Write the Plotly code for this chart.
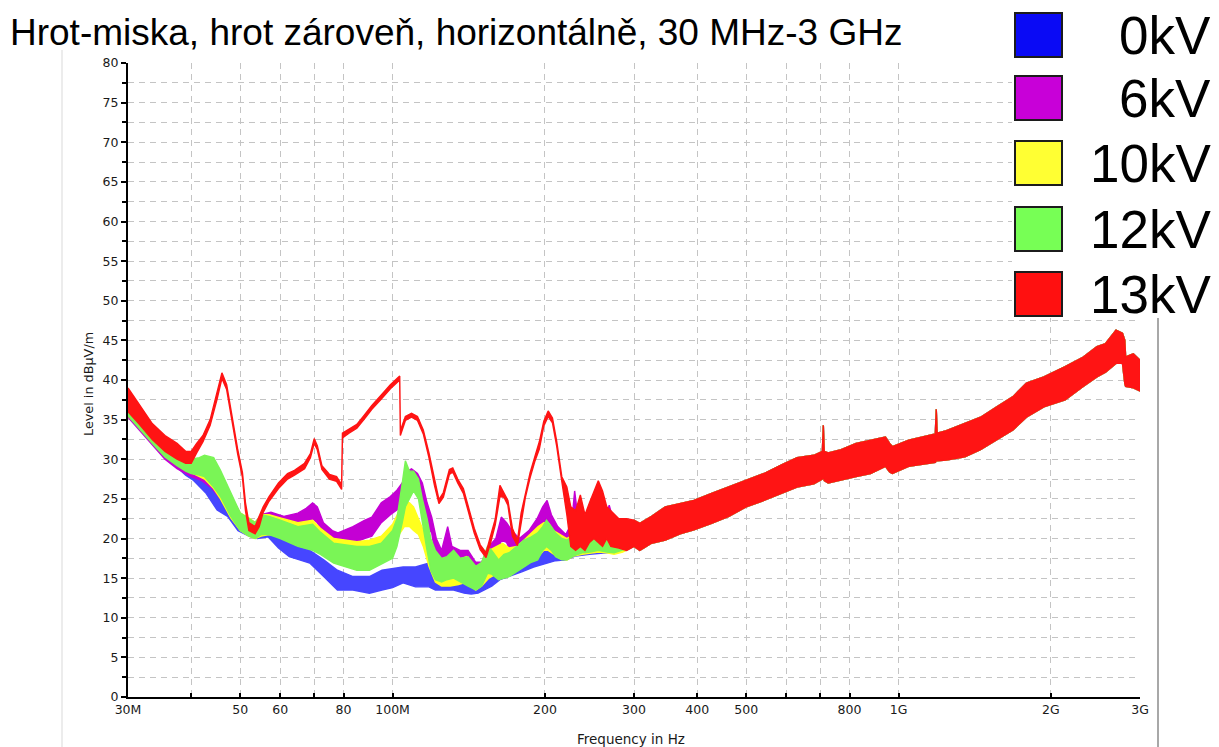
import plotly.graph_objects as go

# ---------------------------------------------------------------------------
# Measured field-strength envelopes: (frequency MHz, lower dBuV/m, upper dBuV/m)
# ---------------------------------------------------------------------------
BAND_0KV = [
    (30, 35.6, 37.5), (31.5, 34.3, 36.0), (33.5, 32.3, 34.0), (35.5, 30.4, 32.0),
    (37.5, 29.0, 30.8), (39, 28.0, 29.5), (40.3, 27.4, 28.6), (42.8, 25.7, 27.0),
    (45, 23.6, 26.1), (47.2, 22.8, 24.5), (49.5, 21.0, 22.5), (52, 20.3, 22.0),
    (54, 20.0, 21.8), (56.8, 20.2, 21.5), (59.5, 18.8, 20.5), (62.5, 17.7, 19.4),
    (65.5, 17.3, 19.0), (68.6, 16.9, 18.5), (73.1, 15.2, 17.3), (77.8, 13.5, 16.0),
    (83.5, 13.5, 15.2), (90, 13.1, 15.2), (95.3, 13.5, 16.0), (100, 13.8, 16.2),
    (104.9, 14.4, 16.4), (111, 13.9, 16.4), (118, 13.9, 16.9), (121.5, 13.5, 15.6),
    (126, 13.5, 15.5), (132, 13.5, 15.5), (138.5, 13.1, 14.8), (143, 13.0, 14.5),
    (147.6, 13.1, 14.8), (152, 13.5, 15.5), (157, 14.0, 16.0), (163, 14.8, 17.0),
    (170, 15.2, 17.5), (180, 15.8, 18.0), (190, 16.4, 18.5), (200, 16.8, 19.0),
    (210, 17.2, 19.5), (220, 17.3, 19.8), (230, 17.8, 20.3), (245, 18.0, 20.5),
    (260, 18.2, 20.8), (275, 18.3, 21.0), (290, 18.5, 21.3),
]

BAND_6KV = [
    (30, 35.3, 37.5), (31.5, 33.8, 36.0), (33.5, 31.8, 34.0), (35.5, 30.0, 32.3),
    (37.5, 28.8, 31.0), (39, 28.2, 30.0), (40, 27.8, 29.7), (42, 27.3, 29.2),
    (44, 26.3, 28.5), (46, 24.8, 27.3), (48, 22.8, 25.3), (50, 21.2, 23.2),
    (52, 20.5, 22.5), (53.5, 20.2, 22.0), (55, 20.5, 23.0), (57.5, 21.0, 23.3),
    (61, 21.0, 22.8), (65, 21.0, 23.2), (67.5, 21.5, 23.8), (69.5, 22.5, 24.5),
    (71, 22.0, 24.0), (73, 20.5, 22.0), (76, 19.5, 21.0), (78, 19.0, 20.7),
    (83.5, 19.4, 21.5), (88, 20.0, 22.3), (91, 20.3, 22.7), (95, 22.0, 24.5),
    (99, 23.0, 25.3), (102, 23.6, 26.1), (104.5, 24.0, 27.0), (107, 26.0, 28.5),
    (109, 26.5, 28.8), (112, 26.1, 28.2), (114.5, 24.5, 27.0), (117, 21.5, 24.5),
    (119.5, 20.7, 22.7), (122, 17.0, 20.0), (125, 16.0, 18.5), (128.5, 17.3, 21.5),
    (131, 16.0, 19.0), (136, 15.6, 18.5), (141, 15.5, 18.5), (146, 14.5, 17.0),
    (150, 14.5, 17.0), (155, 16.0, 19.0), (160, 17.0, 20.0), (164, 19.8, 22.7),
    (168, 19.5, 22.0), (172, 18.0, 21.0), (178, 17.0, 20.0), (186, 18.0, 21.0),
    (193, 19.5, 22.5), (198, 21.0, 24.0), (202, 22.0, 24.8), (206, 20.5, 23.0),
    (212, 18.5, 21.5), (220, 17.7, 20.5), (226, 18.5, 22.0), (229, 19.0, 26.0),
    (233, 18.5, 22.0), (245, 18.5, 21.5), (253, 18.5, 22.0), (263, 18.5, 22.5),
    (268, 18.5, 24.2), (274, 18.3, 22.0), (285, 18.5, 21.5),
]

BAND_10KV = [
    (30, 35.5, 37.8), (31.5, 34.2, 36.3), (33.5, 32.2, 34.3), (35.5, 30.5, 32.6),
    (37.5, 29.3, 31.3), (39, 28.6, 30.3), (40, 28.3, 30.0), (42.5, 27.5, 29.8),
    (44.3, 26.3, 29.5), (45.7, 25.0, 28.0), (47.9, 22.6, 25.3), (50, 21.0, 23.2),
    (52, 20.3, 22.6), (53.5, 20.0, 22.0), (55, 20.3, 23.0), (57, 20.5, 23.0),
    (60, 20.2, 22.6), (65, 19.3, 22.0), (69.5, 18.8, 22.3), (72, 18.5, 21.3),
    (76.5, 17.5, 20.0), (80, 17.0, 19.8), (85, 16.8, 19.6), (90, 17.0, 19.8),
    (95, 17.5, 20.3), (100, 18.5, 21.8), (103, 20.5, 23.5), (105.5, 21.5, 24.8),
    (108, 21.5, 24.5), (110, 21.0, 24.0), (112.5, 20.5, 22.5), (115, 19.0, 21.0),
    (118, 16.5, 19.5), (121.5, 14.5, 17.5), (125, 14.0, 16.8), (130, 14.0, 17.0),
    (135, 14.2, 17.3), (140, 14.5, 17.7), (146, 13.5, 16.0), (150, 14.0, 16.5),
    (155, 15.0, 18.5), (160, 15.5, 19.0), (165, 16.0, 19.4), (170, 15.8, 18.8),
    (176, 16.0, 19.0), (182, 16.5, 19.8), (188, 17.3, 20.7), (194, 17.7, 21.5),
    (199, 18.5, 22.0), (203, 18.5, 22.0), (208, 18.0, 21.0), (214, 17.5, 20.5),
    (221, 17.3, 20.0), (228, 17.8, 20.5), (237, 18.0, 20.5), (246, 18.2, 20.5),
    (255, 18.3, 20.7), (265, 18.2, 21.0), (274, 18.0, 21.3), (285, 18.3, 21.3),
]

BAND_12KV = [
    (30, 35.5, 37.5), (31.5, 34.0, 36.0), (33.5, 32.0, 34.0), (35.5, 30.3, 32.3),
    (37.5, 29.2, 31.0), (39, 28.5, 30.0), (40, 28.2, 30.0), (41.5, 28.0, 30.2),
    (42.5, 27.8, 30.5), (44.3, 26.5, 30.2), (45.7, 25.3, 28.6), (47.9, 22.8, 25.7),
    (50, 21.0, 23.2), (52, 20.3, 22.5), (53.5, 20.0, 22.0), (55, 20.5, 23.0),
    (57, 20.5, 22.8), (60, 20.0, 22.3), (65, 19.0, 21.5), (69.5, 18.5, 21.8),
    (72, 18.0, 20.8), (76.5, 16.9, 19.4), (80, 16.5, 19.2), (85, 16.0, 19.0),
    (90, 16.0, 19.0), (95, 16.8, 19.4), (100, 17.5, 21.0), (102, 19.0, 22.5),
    (104.5, 22.0, 27.0), (106, 24.0, 29.8), (108, 25.0, 28.5), (110, 26.0, 28.5),
    (112.5, 25.0, 27.5), (114.5, 22.0, 25.0), (117, 18.5, 22.5), (119, 16.0, 20.0),
    (121.5, 14.8, 18.5), (125, 14.5, 17.5), (128, 14.8, 17.7), (132, 15.0, 18.5),
    (136, 14.5, 17.5), (141, 14.0, 17.7), (146, 13.5, 16.5), (150, 14.0, 17.0),
    (154, 15.6, 19.0), (157, 15.5, 18.5), (162, 14.8, 17.3), (166, 15.0, 18.0),
    (170, 15.2, 18.2), (176, 15.8, 19.0), (182, 16.4, 19.8), (188, 17.0, 20.2),
    (193.5, 17.3, 20.7), (198, 18.5, 21.5), (201.5, 19.0, 22.3), (206, 18.5, 21.5),
    (210, 17.7, 20.7), (216, 17.3, 20.0), (221.5, 17.3, 19.8), (228, 17.8, 20.5),
    (237, 18.2, 20.7), (246, 18.3, 20.5), (255, 18.5, 20.7), (265, 18.3, 21.0),
    (274, 18.2, 21.5), (285, 18.5, 21.5),
]

BAND_13KV = [
    (30, 36.0, 39.0), (31.5, 34.5, 37.0), (33.5, 32.5, 34.5), (35.5, 31.0, 33.0),
    (37.5, 30.0, 32.0), (39, 29.5, 31.0), (40, 29.5, 31.0), (41, 30.8, 32.0),
    (42.2, 32.2, 33.0), (43.6, 34.3, 35.0), (45, 37.6, 38.5), (46, 40.2, 40.9),
    (47, 38.8, 39.4), (48.2, 34.7, 35.3), (49.4, 30.7, 31.3), (50.5, 27.7, 28.3),
    (51.2, 23.5, 24.5), (52, 21.0, 22.0), (53.5, 20.6, 21.5), (54.5, 21.5, 22.8),
    (55.5, 23.3, 24.0), (57, 24.7, 25.3), (59.5, 26.3, 27.0), (62, 27.5, 28.2),
    (64, 28.0, 28.6), (67, 28.8, 29.5), (68.8, 30.2, 30.7), (70, 32.0, 32.6),
    (71, 31.2, 31.7), (72.5, 28.7, 29.2), (75, 27.5, 28.1), (77.5, 27.2, 27.8),
    (79.3, 26.2, 26.8), (79.6, 32.7, 33.3), (82, 33.3, 33.8), (85, 33.9, 34.4),
    (88, 35.1, 35.6), (91, 36.3, 36.8), (95, 37.6, 38.1), (99, 38.9, 39.4),
    (103.3, 40.0, 40.5), (103.6, 33.0, 33.6), (106, 34.9, 35.4), (109, 35.3, 35.8),
    (112, 34.9, 35.4), (115, 33.2, 33.7), (118, 30.2, 30.8), (121, 26.7, 27.3),
    (123.5, 24.4, 24.9), (126, 25.2, 25.8), (129.5, 28.1, 28.7), (131.5, 28.4, 28.9),
    (134.5, 27.0, 27.5), (138, 25.7, 26.3), (141, 23.4, 24.0), (145, 20.7, 21.3),
    (149, 18.6, 19.2), (153, 17.6, 18.2), (156, 19.3, 20.2), (159.5, 21.7, 22.4),
    (163, 25.3, 26.7), (166, 25.2, 25.8), (169, 24.2, 24.8), (172.5, 20.3, 21.3),
    (176.5, 19.1, 19.7), (179.5, 21.8, 23.2), (183, 25.2, 25.8), (187, 27.7, 28.3),
    (191, 29.7, 30.3), (195, 31.3, 32.2), (199, 34.2, 34.8), (203, 35.4, 36.1),
    (207, 34.6, 35.2), (211, 31.7, 32.3), (216, 27.2, 27.8), (221, 23.0, 26.5),
    (225, 19.0, 24.0), (230, 18.5, 23.5), (235, 19.0, 25.5), (240, 18.5, 23.0),
    (245, 19.5, 24.5), (250, 20.0, 26.0), (255, 19.5, 27.3), (260, 19.0, 26.0),
    (265, 20.0, 24.0), (270, 19.0, 23.5), (280, 18.8, 22.5), (290, 18.5, 22.5),
]

# Above 300 MHz all five measurements lie in the same band
BAND_ABOVE_300M = [
    (300, 19.0, 22.3), (308, 18.5, 21.9), (325, 19.4, 22.8), (346, 19.8, 24.0),
    (370, 20.6, 24.4), (394, 21.1, 24.8), (427, 21.9, 25.7), (462, 22.8, 26.5),
    (500, 24.0, 27.4), (542, 24.8, 28.2), (587, 25.7, 29.3), (630, 26.5, 30.2),
    (680, 26.9, 30.5), (707, 27.5, 31.0), (710, 27.8, 34.3), (713, 27.3, 31.0),
    (726, 27.0, 30.8), (770, 27.4, 31.2), (824, 27.8, 32.0), (880, 28.2, 32.4),
    (942, 29.1, 32.8), (960, 28.4, 32.0), (972, 28.2, 31.6), (1047, 29.1, 32.4),
    (1182, 29.6, 33.2), (1187, 29.8, 36.3), (1192, 29.8, 33.3), (1243, 29.9, 33.6),
    (1352, 30.3, 34.5), (1452, 31.2, 35.3), (1563, 32.4, 36.6), (1683, 33.7, 37.9),
    (1789, 35.3, 39.6), (1937, 36.6, 40.4), (2134, 37.5, 41.7), (2317, 39.2, 42.9),
    (2466, 40.4, 44.2), (2565, 41.0, 44.6), (2690, 42.1, 46.3), (2770, 42.1, 45.9),
    (2800, 39.5, 45.0), (2810, 39.2, 42.9), (2910, 39.0, 43.3), (3000, 38.6, 42.5),
]

SERIES_NAMES = ["0kV", "6kV", "10kV", "12kV", "13kV"]
SERIES_BANDS = [BAND_0KV, BAND_6KV, BAND_10KV, BAND_12KV, BAND_13KV]
TRACE_COLORS = ["#4646ff", "#c400d4", "#ffff1e", "#7af556", "#ff1414"]
LEGEND_COLORS = ["#0a0af5", "#c800d8", "#ffff33", "#77ff55", "#ff1010"]

X_TICKS = [30, 40, 50, 60, 70, 80, 100, 200, 300, 400, 500, 600, 700, 800, 1000, 2000, 3000]
X_TICK_TEXT = ["30M", "", "50", "60", "", "80", "100M", "200", "300", "400", "500",
               "", "", "800", "1G", "2G", "3G"]

TITLE = "Hrot-miska, hrot zároveň, horizontálně, 30 MHz-3 GHz"

# ---------------------------------------------------------------------------
W, H = 1219, 747
ML, MR, MT, MB = 128, 79, 63, 50
FONT = "Liberation Sans, Arial, sans-serif"
SMALL_FONT = "DejaVu Sans, Verdana, sans-serif"


def px(x):
    return (x - ML) / (W - ML - MR)


def py(y):
    return (H - MB - y) / (H - MT - MB)


fig = go.Figure()

for name, band, color in zip(SERIES_NAMES, SERIES_BANDS, TRACE_COLORS):
    pts = band + BAND_ABOVE_300M
    f = [p[0] for p in pts]
    lo = [p[1] for p in pts]
    hi = [p[2] for p in pts]
    fig.add_trace(go.Scatter(
        x=f + f[::-1], y=hi + lo[::-1],
        mode="lines", fill="toself", fillcolor=color,
        line=dict(color=color, width=1.4),
        name=name, hoverinfo="skip", showlegend=False,
    ))

GRID = dict(gridcolor="#c4c4c4", gridwidth=1.3, griddash="6px,5px")
TICKFONT = dict(family=SMALL_FONT, size=12.5, color="#1a1a1a")

fig.update_xaxes(
    type="log", range=[1.4771213, 3.4771213],
    tickvals=X_TICKS, ticktext=X_TICK_TEXT,
    ticks="inside", ticklen=4, tickwidth=1.5, tickcolor="#000",
    showline=True, linewidth=2, linecolor="#000",
    showgrid=True, zeroline=False, tickfont=TICKFONT,
    **GRID,
)
fig.update_yaxes(
    range=[0, 80], tick0=0, dtick=5,
    ticks="outside", ticklen=5, tickwidth=1.5, tickcolor="#000",
    showline=True, linewidth=2, linecolor="#000",
    showgrid=True, zeroline=False, tickfont=TICKFONT,
    minor=dict(dtick=2.5, ticks="outside", ticklen=4, tickwidth=1.5,
               tickcolor="#000", showgrid=True, **GRID),
    **GRID,
)

shapes = [
    # panel frame lines
    dict(type="line", xref="paper", yref="paper", x0=px(62), x1=px(62),
         y0=py(50), y1=py(747), line=dict(color="#ececec", width=2), layer="below"),
    dict(type="line", xref="paper", yref="paper", x0=px(1158), x1=px(1158),
         y0=py(318), y1=py(747), line=dict(color="#a8a8a8", width=2), layer="above"),
    # legend backdrop
    dict(type="rect", xref="paper", yref="paper", x0=px(1012), x1=px(1219),
         y0=py(0), y1=py(318), fillcolor="#ffffff", line=dict(width=0), layer="above"),
]
annotations = [
    dict(text=TITLE, xref="paper", yref="paper", x=px(8), y=py(32),
         xanchor="left", yanchor="middle", showarrow=False,
         font=dict(family=FONT, size=37, color="#000")),
    dict(text="Frequency in Hz", xref="paper", yref="paper", x=px(631), y=py(739),
         xanchor="center", yanchor="middle", showarrow=False,
         font=dict(family=SMALL_FONT, size=13.5, color="#1a1a1a")),
    dict(text="Level in dBµV/m", xref="paper", yref="paper", x=px(88), y=py(384),
         xanchor="center", yanchor="middle", showarrow=False, textangle=-90,
         font=dict(family=SMALL_FONT, size=12.8, color="#1a1a1a")),
]

row_tops = [13, 76, 141, 207, 272]
for name, color, top in zip(SERIES_NAMES, LEGEND_COLORS, row_tops):
    shapes.append(dict(type="rect", xref="paper", yref="paper",
                       x0=px(1015), x1=px(1062), y0=py(top + 44), y1=py(top),
                       fillcolor=color, line=dict(color="#1c1c1c", width=2),
                       layer="above"))
    annotations.append(dict(text=name, xref="paper", yref="paper",
                            x=px(1213), y=py(top + 22), xanchor="right",
                            yanchor="middle", showarrow=False,
                            font=dict(family=FONT, size=53, color="#000")))

fig.update_layout(
    width=W, height=H,
    margin=dict(l=ML, r=MR, t=MT, b=MB),
    paper_bgcolor="#ffffff", plot_bgcolor="#ffffff",
    shapes=shapes, annotations=annotations,
    showlegend=False,
)

fig.write_html("out.html")
